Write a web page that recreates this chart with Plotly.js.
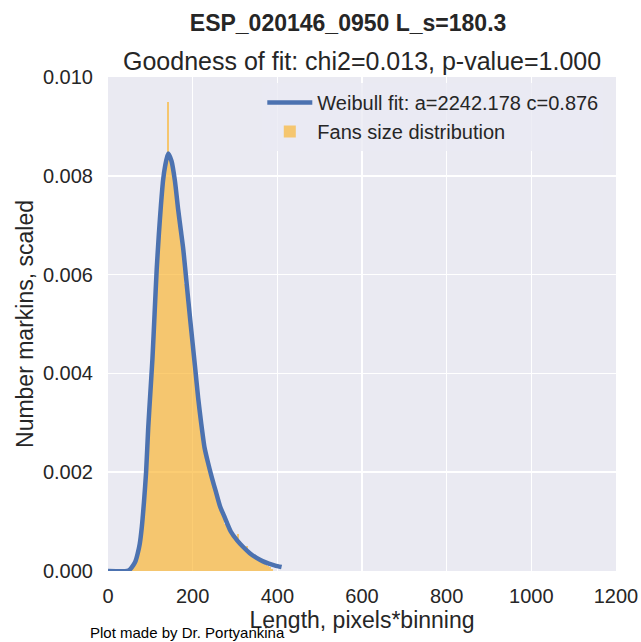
<!DOCTYPE html>
<html>
<head>
<meta charset="utf-8">
<script src="https://cdn.plot.ly/plotly-3.0.1.min.js"></script>
<style>html,body{margin:0;padding:0;background:#fff;}#chart{width:641px;height:642px;}</style>
</head>
<body>
<div id="chart"></div>
<script>
// Weibull fit curve
const fitX = [0, 45, 52, 60, 65, 70, 75, 80, 85, 90, 95, 100, 105, 110, 115, 120, 125, 130, 135, 142, 150, 158, 166, 172, 178, 186, 194, 200, 206, 213, 220, 228, 236, 245, 255, 265, 275, 290, 305, 320, 335, 350, 365, 380, 395, 410];
const fitY = [0, 0, 0.00003, 0.00012, 0.0002, 0.00035, 0.00055, 0.0009, 0.0014, 0.002, 0.0029, 0.0036, 0.0043, 0.0052, 0.0061, 0.0068, 0.0074, 0.0079, 0.0082, 0.00845, 0.0083, 0.0079, 0.0073, 0.0069, 0.0065, 0.0058, 0.0051, 0.0046, 0.0041, 0.0035, 0.0030, 0.0025, 0.0022, 0.0019, 0.0016, 0.0013, 0.0011, 0.0008, 0.00062, 0.00048, 0.00036, 0.00027, 0.0002, 0.00015, 0.00011, 0.00008];

// Histogram (bin centres and scaled counts)
const binCenters = [57.5, 62.5, 67.5, 72.5, 77.5, 82.5, 87.5, 92.5, 97.5, 102.5, 107.5, 112.5, 117.5, 122.5, 127.5, 132.5, 137.5, 142.5, 147.5, 152.5, 157.5, 162.5, 167.5, 172.5, 177.5, 182.5, 187.5, 192.5, 197.5, 202.5, 207.5, 212.5, 217.5, 222.5, 227.5, 232.5, 237.5, 242.5, 247.5, 252.5, 257.5, 262.5, 267.5, 272.5, 277.5, 282.5, 287.5, 292.5, 297.5, 302.5, 307.5, 312.5, 317.5, 322.5, 327.5, 332.5, 337.5, 342.5, 347.5, 352.5, 357.5, 362.5, 367.5, 372.5, 377.5, 382.5, 387.5];
const binHeights = [0.0001, 0.00015, 0.00028, 0.00045, 0.0007, 0.0011, 0.0017, 0.0024, 0.0032, 0.0040, 0.0048, 0.0057, 0.0065, 0.0071, 0.0076, 0.0080, 0.0083, 0.0095, 0.0083, 0.0081, 0.0078, 0.0074, 0.0071, 0.0067, 0.0064, 0.0058, 0.0056, 0.0052, 0.0047, 0.0044, 0.0040, 0.0036, 0.0032, 0.0028, 0.0026, 0.0023, 0.0021, 0.0019, 0.0018, 0.0016, 0.0015, 0.0013, 0.0012, 0.0011, 0.00095, 0.0009, 0.00085, 0.0008, 0.0007, 0.00065, 0.00075, 0.0006, 0.0005, 0.00045, 0.0005, 0.00035, 0.0003, 0.00028, 0.00032, 0.00022, 0.0002, 0.00018, 0.00015, 0.00012, 0.0001, 0.00008, 0.00005];

const xTicks = [0, 200, 400, 600, 800, 1000, 1200];
const yTicks = [0, 0.002, 0.004, 0.006, 0.008, 0.010];

const FONT = '"Liberation Sans", Arial, sans-serif';
const TXT = '#262626';

const traces = [
  {
    type: 'bar', x: binCenters, y: binHeights, width: 5,
    name: 'Fans size distribution',
    marker: {color: 'rgba(250,178,40,0.65)', line: {width: 0}},
    showlegend: true
  },
  {
    type: 'scatter', mode: 'lines', x: fitX, y: fitY,
    name: 'Weibull fit: a=2242.178 c=0.876',
    line: {color: '#4C72B0', width: 4.5, shape: 'spline', smoothing: 0.6}
  }
];

const layout = {
  width: 641, height: 642,
  margin: {l: 108, r: 25, t: 77, b: 71},
  paper_bgcolor: '#ffffff', plot_bgcolor: '#EAEAF2',
  font: {family: FONT, color: TXT, size: 18},
  bargap: 0,
  title: {text: '<b>ESP_020146_0950 L_s=180.3</b>', font: {family: FONT, size: 23, color: TXT},
          x: 0.543, xanchor: 'center', y: 0.964, yanchor: 'middle', yref: 'container'},
  xaxis: {range: [0, 1200], tickvals: xTicks, ticktext: xTicks.map(String),
          showgrid: true, gridcolor: '#ffffff', gridwidth: 1.5, zeroline: false, showline: false,
          ticks: '', ticklabelstandoff: 11, tickfont: {size: 20, color: TXT, family: FONT},
          title: {text: 'Length, pixels*binning', font: {size: 23, color: TXT, family: FONT}, standoff: 1}},
  yaxis: {range: [0, 0.010], tickvals: yTicks, ticktext: yTicks.map(v => v.toFixed(3)),
          showgrid: true, gridcolor: '#ffffff', gridwidth: 1.5, zeroline: false, showline: false,
          ticks: '', ticklabelstandoff: 14, tickfont: {size: 20, color: TXT, family: FONT},
          title: {text: 'Number markins, scaled', font: {size: 23, color: TXT, family: FONT}, standoff: 2}},
  legend: {x: 0.975, xanchor: 'right', y: 0.988, yanchor: 'top', bgcolor: 'rgba(234,234,242,0.8)',
           borderwidth: 0, font: {size: 20, color: TXT, family: FONT}, traceorder: 'reversed', itemwidth: 45},
  annotations: [
    {text: 'Goodness of fit: chi2=0.013, p-value=1.000', xref: 'paper', yref: 'paper',
     x: 0.5, y: 1.032, xanchor: 'center', yanchor: 'middle', showarrow: false,
     font: {size: 25, color: TXT, family: FONT}},
    {text: 'Plot made by Dr. Portyankina', xref: 'paper', yref: 'paper',
     x: -0.039, y: -0.124, xanchor: 'left', yanchor: 'middle', showarrow: false,
     font: {size: 15, color: '#000000', family: FONT}}
  ]
};

Plotly.newPlot('chart', traces, layout, {displayModeBar: false, staticPlot: true});
</script>
</body>
</html>
